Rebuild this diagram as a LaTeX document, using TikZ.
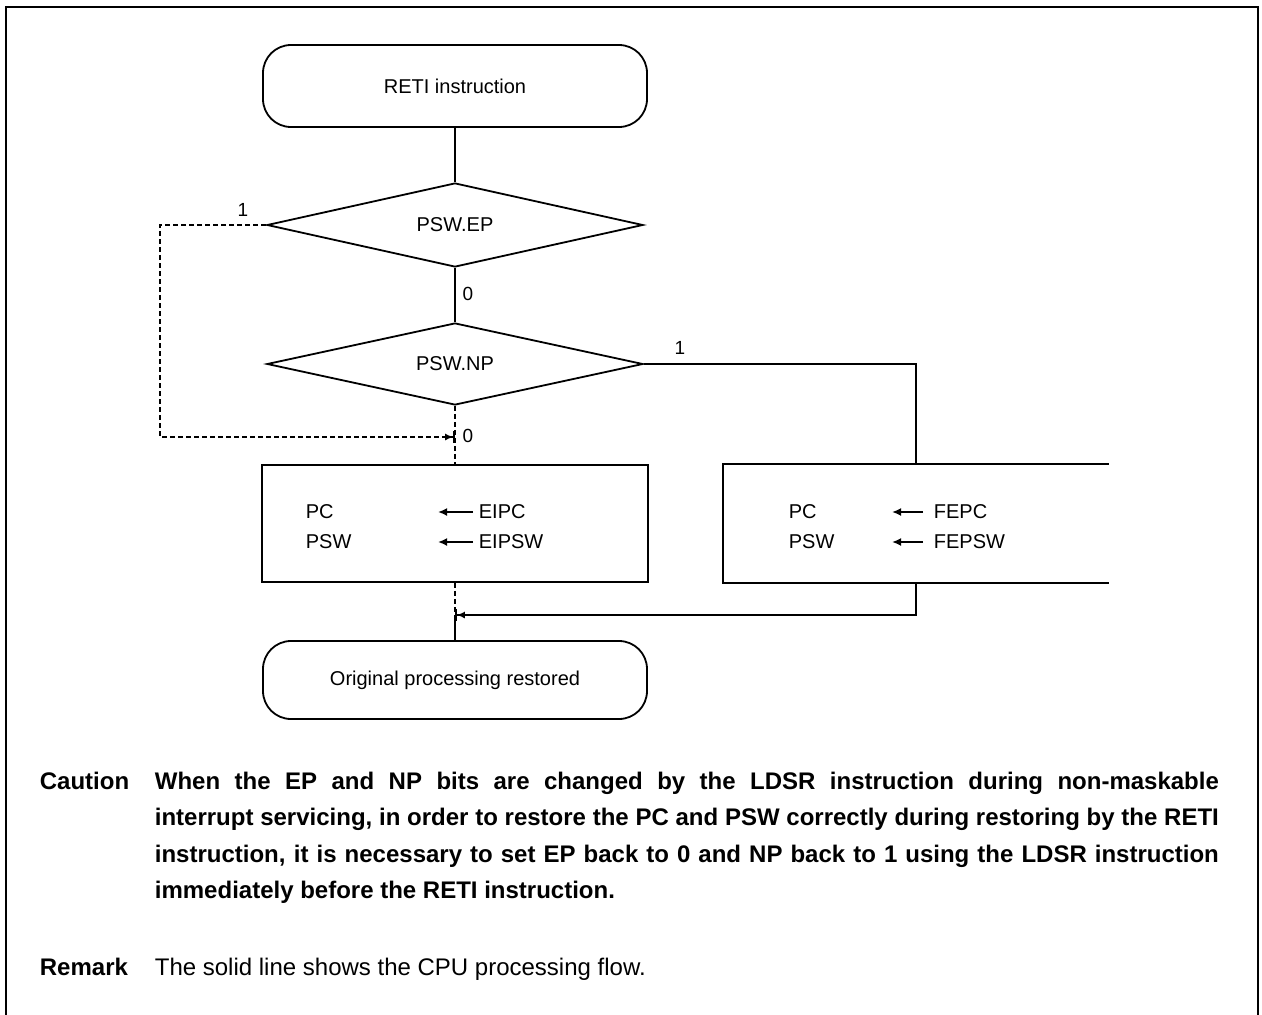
\documentclass[tikz,border=0pt]{standalone}
\usepackage{fontspec}
\setmainfont{Liberation Sans}
\usetikzlibrary{shapes.geometric,arrows.meta}
\begin{document}
\begin{tikzpicture}[x=1pt,y=-1pt,
  line width=1.8pt,
  every node/.style={font=\fontsize{20}{24}\selectfont},
  term/.style={draw, rounded corners=28pt, minimum width=384pt, inner sep=0pt},
  dec/.style={draw, diamond, aspect=4.5, minimum width=376pt, minimum height=84pt, inner sep=0pt},
  proc/.style={draw, rectangle, minimum width=386pt, minimum height=117pt, inner sep=0pt},
  dsh/.style={dash pattern=on 5pt off 3pt},
  jtip/.style={-{Latex[length=8pt,width=7pt]Bar[width=12pt]}},
  btip/.style={-{Latex[length=9pt,width=8pt]}},
  lbl/.style={font=\fontsize{19}{22}\selectfont, inner sep=0pt},
  txt/.style={anchor=west, inner sep=0pt},
  captxt/.style={font=\fontsize{24}{28}\selectfont\bfseries, anchor=base west, inner sep=0pt},
  rmktxt/.style={font=\fontsize{24}{28}\selectfont, anchor=base west, inner sep=0pt},
]
\path[use as bounding box] (0,0) rectangle (1262,1015);
\draw[line width=2.5pt] (6,1015) -- (6,7) -- (1258,7) -- (1258,1015);

% nodes
\node[term, minimum height=82pt] (start) at (455,86) {RETI instruction};
\node[dec] (ep) at (455,225) {PSW.EP};
\node[dec, minimum height=82pt] (np) at (455,364) {PSW.NP};
\node[proc] (eibox) at (455,523.5) {};
\node[minimum width=384pt, minimum height=117pt, inner sep=0pt] (febox) at (916,523.5) {};
\node[term, minimum height=78pt] (end) at (455,680) {Original processing restored};

\coordinate (jl) at (455,437);
\coordinate (jm) at (455,615);

% box contents
\node[txt] (pc1) at (305,512) {PC};
\node[txt] (psw1) at (305,542) {PSW};
\node[txt] (eipc) at (478,512) {EIPC};
\node[txt] (eipsw) at (478,542) {EIPSW};
\node[txt] (pc2) at (788,512) {PC};
\node[txt] (psw2) at (788,542) {PSW};
\node[txt] (fepc) at (933,512) {FEPC};
\node[txt] (fepsw) at (933,542) {FEPSW};
\draw[btip] ([xshift=-5pt]eipc.west) -- ++(-35,0);
\draw[btip] ([xshift=-5pt]eipsw.west) -- ++(-35,0);
\draw[btip] ([xshift=-10pt]fepc.west) -- ++(-31,0);
\draw[btip] ([xshift=-10pt]fepsw.west) -- ++(-31,0);

% labels
\node[lbl] (l1a) at (243,210) {1};
\node[lbl] (l0a) at (468,294) {0};
\node[lbl] (l1b) at (680,348) {1};
\node[lbl] (l0b) at (468,436) {0};

% connectors
\draw (febox.north east) -- (febox.north west) -- (febox.south west) -- (febox.south east);
\draw (start.south) -- (ep.north);
\draw (ep.south) -- (np.north);
\draw[dsh, jtip] (ep.west) -- ++(-106,0) |- (jl);
\draw[dsh] (np.south) -- (eibox.north);
\draw (np.east) -| (febox.north);
\draw[jtip] (febox.south) |- (jm);
\draw[dsh] (eibox.south) -- (jm);
\draw (jm) -- (end.north);

% caption
\node[captxt] (cau) at (39,789) {Caution};
\node[captxt] (c1) at (154,789) {\makebox[1064pt][s]{When the EP and NP bits are changed by the LDSR instruction during non-maskable}};
\node[captxt] (c2) at (154,825.5) {\makebox[1064pt][s]{interrupt servicing, in order to restore the PC and PSW correctly during restoring by the RETI}};
\node[captxt] (c3) at (154,862) {\makebox[1064pt][s]{instruction, it is necessary to set EP back to 0 and NP back to 1 using the LDSR instruction}};
\node[captxt] (c4) at (154,898.5) {immediately before the RETI instruction.};
\node[captxt] (rem) at (39,975) {Remark};
\node[rmktxt] (rtxt) at (154,975) {The solid line shows the CPU processing flow.};
\end{tikzpicture}
\end{document}
